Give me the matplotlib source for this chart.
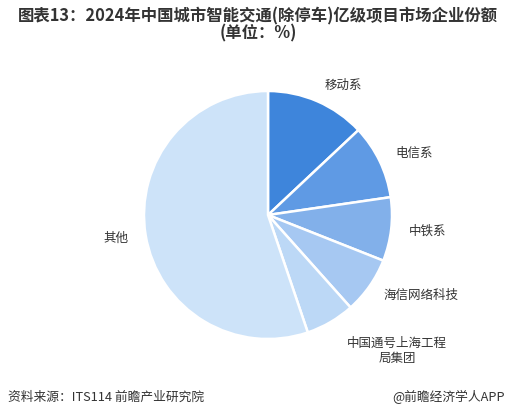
import matplotlib.pyplot as plt

plt.rcParams['font.family'] = ['Noto Sans CJK SC', 'DejaVu Sans']

# 数据（单位：%）
companies = ['移动系', '电信系', '中铁系', '海信网络科技', '中国通号上海工程\n局集团', '其他']
shares = [13.0, 9.7, 8.3, 7.4, 6.4, 55.2]
colors = ['#3e85db', '#5f9ae4', '#82b0ea', '#a6c8f2', '#bcd8f6', '#cde3f9']

fig = plt.figure(figsize=(5.16, 4.20), dpi=100)
fig.patch.set_facecolor('white')

# 饼图区域：圆心约 (268, 215)，半径约 124 像素
R = 124
cx, cy = 268, 420 - 215
half = 1.5 * R
ax = fig.add_axes([(cx - half) / 516, (cy - half) / 420, 2 * half / 516, 2 * half / 420])

wedges, texts = ax.pie(shares, labels=companies, colors=colors, startangle=90,
                       counterclock=False, labeldistance=1.14,
                       wedgeprops=dict(edgecolor='white', linewidth=1.8),
                       textprops=dict(fontsize=9, color='#333333'))
for t in texts:
    t.set_multialignment('center')
# 两行标签稍微外移
x, y = texts[4].get_position()
texts[4].set_position((x * 1.27 / 1.14, y * 1.27 / 1.14))

ax.set_xlim(-1.5, 1.5)
ax.set_ylim(-1.5, 1.5)
ax.set_aspect('equal')

# 标题
fig.text(0.5, 1 - 16 / 420, '图表13：2024年中国城市智能交通(除停车)亿级项目市场企业份额',
         ha='center', va='center', fontsize=11.8, fontweight='bold', color='#333333')
fig.text(0.5, 1 - 33 / 420, '(单位：%)', ha='center', va='center',
         fontsize=11.8, fontweight='bold', color='#333333')

# 来源
fig.text(8 / 516, 1 - 397 / 420, '资料来源：ITS114 前瞻产业研究院', ha='left', va='center',
         fontsize=9.2, color='#333333')
fig.text(505 / 516, 1 - 397 / 420, '@前瞻经济学人APP', ha='right', va='center',
         fontsize=9.2, color='#333333')

plt.savefig('out.png', dpi=100)
